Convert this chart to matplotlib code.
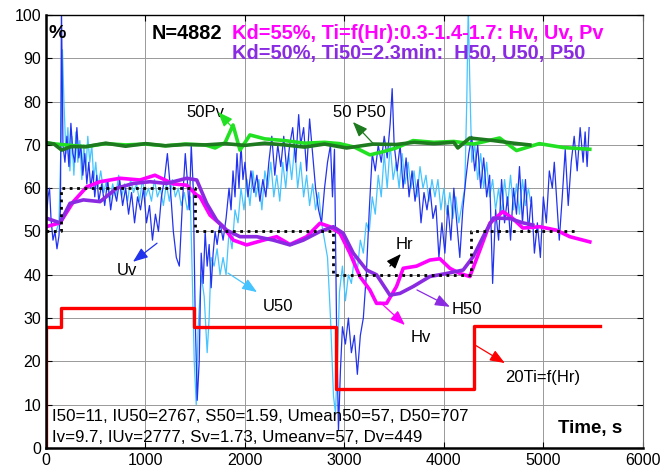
import numpy as np
import matplotlib.pyplot as plt

plt.rcParams['font.family'] = ['Liberation Sans', 'DejaVu Sans']

# --- Reference step signals
hr_t = [0, 150, 1500, 2890, 4270, 5350]
hr_v = [50, 60, 50, 40, 50, 50]

ti_t = [0, 0, 155, 1490, 2915, 4300, 5570]
ti_v = [0, 28, 32.3, 28, 13.6, 28.2, 28.2]

# --- Pv / P50
pv_t = [0, 100, 200, 400, 600, 800, 1000, 1200, 1400, 1600, 1700, 1800, 1880, 1950, 2050, 2200,
        2400, 2600, 2800, 2950, 3100, 3256, 3400, 3520, 3690, 3900, 4100, 4300, 4560, 4730, 4960,
        5200, 5467]
pv_v = [70.5, 70.2, 70.0, 69.6, 70.3, 70.0, 70.2, 69.8, 70.2, 70.0, 69.3, 70.5, 74.6, 68.8, 72.3,
        71.4, 71.0, 70.4, 70.6, 70.3, 69.5, 67.7, 68.5, 69.3, 71.0, 70.6, 70.8, 70.2, 71.6, 68.7, 70.3,
        69.4, 69.0]
p50_t = [0, 80, 158, 250, 400, 600, 800, 1000, 1200, 1400, 1600, 1800, 2000, 2200, 2400, 2600,
         2800, 3022, 3290, 3520, 3700, 3900, 4100, 4140, 4260, 4500, 4700, 4864]
p50_v = [70.5, 70.2, 68.8, 69.6, 69.6, 70.4, 69.7, 70.3, 69.8, 70.1, 70.0, 70.3, 69.9, 70.4, 70.0,
         69.5, 70.2, 69.3, 70.2, 70.1, 70.6, 70.3, 70.6, 69.3, 71.6, 71.0, 70.4, 70.0]

# --- Hv / H50
hv_t = [0, 141, 275, 409, 543, 744, 945, 1095, 1280, 1414, 1515, 1548, 1648, 1782, 1883, 2017,
        2185, 2319, 2452, 2620, 2754, 2854, 2955, 3055, 3156, 3256, 3323, 3424, 3524, 3591, 3725,
        3859, 3960, 4060, 4161, 4261, 4362, 4462, 4593, 4693, 4794, 4965, 5132, 5266, 5467]
hv_v = [51.1, 52.0, 56.9, 60.3, 61.5, 62.3, 61.9, 63.0, 61.0, 60.7, 58.4, 58.0, 53.8, 51.1, 48.0,
        46.9, 48.0, 48.8, 47.0, 48.8, 51.9, 51.1, 49.6, 45.0, 39.6, 36.5, 33.4, 33.4, 37.3, 41.5,
        42.0, 43.4, 43.7, 41.5, 40.3, 39.6, 45.7, 51.9, 54.6, 53.0, 50.8, 51.1, 50.3, 48.8, 47.6]
h50_t = [0, 141, 241, 375, 543, 711, 878, 1045, 1213, 1414, 1515, 1615, 1715, 1816, 1950, 2118,
         2285, 2452, 2586, 2754, 2888, 2988, 3089, 3223, 3323, 3457, 3558, 3692, 3859, 4027, 4194,
         4295, 4395, 4496, 4663, 4794, 4894]
h50_v = [53.1, 52.0, 56.5, 57.3, 56.9, 60.0, 61.1, 61.5, 61.1, 62.3, 61.9, 56.5, 52.6, 50.3, 48.8,
         48.8, 48.0, 46.9, 48.0, 50.0, 51.1, 49.6, 45.0, 41.1, 40.0, 35.3, 35.7, 37.3, 39.6, 40.3,
         41.1, 44.2, 48.8, 53.1, 53.0, 52.0, 51.5]

# --- Uv / U50 (noisy signals)
uv_t = [0, 20, 35, 50, 70, 90, 110, 130, 145, 155, 170, 190, 210, 230, 250, 270, 290, 310, 330,
        350, 370, 390, 410, 430, 450, 470, 490, 510, 530, 560, 590, 620, 650, 680, 710, 740, 770,
        800, 830, 860, 890, 920, 950, 980, 1010, 1040, 1070, 1100, 1130, 1160, 1190, 1220, 1250,
        1280, 1310, 1340, 1370, 1400, 1420, 1440, 1460, 1480, 1500, 1520, 1540, 1560, 1580, 1600,
        1620, 1640, 1660, 1680, 1700, 1720, 1750, 1780, 1810, 1840, 1860, 1880, 1900, 1920, 1940,
        1960, 1980, 2000, 2030, 2060, 2090, 2120, 2150, 2180, 2210, 2240, 2270, 2300, 2330, 2360,
        2390, 2420, 2450, 2480, 2510, 2540, 2560, 2590, 2620, 2650, 2680, 2710, 2740, 2770, 2800,
        2830, 2860, 2880, 2900, 2920, 2940, 2960, 2980, 3010, 3040, 3070, 3100, 3130, 3160, 3190,
        3220, 3250, 3280, 3310, 3340, 3370, 3400, 3430, 3460, 3480, 3500, 3530, 3560, 3590, 3620,
        3650, 3680, 3710, 3740, 3770, 3800, 3830, 3860, 3890, 3920, 3950, 3980, 4010, 4040, 4070,
        4100, 4130, 4160, 4190, 4220, 4250, 4280, 4310, 4340, 4370, 4400, 4430, 4460, 4490, 4520,
        4550, 4580, 4610, 4640, 4670, 4700, 4730, 4760, 4790, 4820, 4850, 4880, 4910, 4940, 4970,
        5000, 5030, 5060, 5090, 5110, 5140, 5160, 5190, 5220, 5250, 5280, 5310, 5340, 5370, 5400,
        5420, 5440, 5460]
uv_v = [52, 58, 60, 53, 48, 50, 46, 49, 55, 102, 70, 66, 72, 65, 75, 68, 66, 74, 67,
        70, 63, 68, 61, 66, 60, 64, 58, 63, 57, 61, 56, 62, 55, 60, 57, 62, 56,
        60, 54, 59, 52, 58, 55, 60, 52, 56, 48, 54, 50, 58, 62, 68, 60,
        50, 44, 42, 56, 68, 62, 55, 70, 60, 30, 11, 20, 45, 38, 50,
        42, 47, 37, 45, 50, 47, 52, 48, 53, 60, 55, 64, 58, 68, 60,
        70, 62, 66, 58, 64, 59, 63, 57, 62, 58, 66, 72, 63, 70, 65,
        72, 64, 70, 74, 66, 77, 70, 74, 64, 76, 68, 60, 55, 52, 60,
        66, 70, 58, 69, 30, 4, 18, 28, 24, 30, 22, 26, 17, 26, 30,
        40, 55, 68, 64, 70, 66, 72, 67, 75, 83, 70, 64, 70, 60, 67,
        58, 64, 57, 62, 52, 59, 55, 60, 53, 56, 44, 52, 45, 56, 48,
        60, 52, 44, 55, 62, 68, 72, 64, 70, 60, 67, 58, 63, 38, 55,
        48, 62, 52, 58, 48, 60, 54, 65, 52, 62, 50, 58, 45, 52, 44,
        58, 52, 64, 60, 66, 55, 48, 58, 69, 56, 66, 72, 64, 74, 66,
        73, 65, 74]

u50_t = [100, 130, 150, 165, 180, 200, 220, 240, 260, 280, 300, 320, 340, 360, 380, 400, 420,
         440, 460, 480, 500, 520, 550, 580, 610, 640, 670, 700, 730, 760, 790, 820, 850, 880, 910,
         940, 970, 1000, 1030, 1060, 1090, 1120, 1150, 1180, 1210, 1240, 1270, 1300, 1330, 1360,
         1390, 1420, 1450, 1470, 1490, 1510, 1530, 1560, 1590, 1620, 1640, 1660, 1690, 1720, 1750,
         1780, 1810, 1840, 1870, 1900, 1930, 1960, 1990, 2020, 2050, 2080, 2110, 2140, 2170, 2200,
         2230, 2260, 2290, 2320, 2350, 2380, 2410, 2440, 2470, 2500, 2530, 2560, 2590, 2620, 2650,
         2680, 2710, 2740, 2770, 2800, 2830, 2860, 2890, 2910, 2930, 2950, 2980, 3010, 3040, 3070,
         3100, 3130, 3160, 3190, 3220, 3250, 3280, 3310, 3340, 3370, 3400, 3430, 3460, 3490, 3520,
         3550, 3580, 3610, 3640, 3670, 3700, 3730, 3760, 3790, 3820, 3850, 3880, 3910, 3940, 3970,
         4000, 4030, 4060, 4090, 4120, 4150, 4180, 4210, 4230, 4245, 4260, 4280, 4310, 4340, 4370,
         4400, 4430, 4460, 4490, 4520, 4550, 4580, 4610, 4640, 4670, 4700, 4730, 4760, 4790, 4820,
         4850, 4870]
u50_v = [50, 52, 70, 92, 80, 68, 74, 64, 72, 63, 73, 66, 71, 62, 70, 64, 72,
         66, 70, 62, 66, 60, 64, 59, 62, 57, 61, 58, 63, 58, 61, 57, 62, 59, 61,
         57, 62, 58, 60, 57, 62, 58, 60, 56, 61, 57, 62, 58, 60, 56,
         59, 55, 58, 40, 20, 10, 28, 40, 35, 22, 30, 44, 42, 46, 40,
         44, 40, 50, 46, 55, 52, 60, 55, 62, 56, 64, 58, 62, 55, 64,
         60, 66, 58, 63, 57, 66, 60, 68, 62, 70, 60, 66, 58, 63, 56,
         61, 55, 59, 52, 48, 44, 30, 12, 8, 20, 36, 42, 34, 40, 38,
         44, 41, 48, 45, 52, 50, 58, 54, 63, 58, 68, 60, 70, 62, 66,
         60, 68, 61, 66, 60, 64, 58, 65, 60, 63, 57, 62, 58, 62, 55,
         60, 54, 59, 53, 58, 52, 56, 60, 80, 102, 85, 66, 70, 62, 68,
         60, 66, 58, 62, 55, 60, 54, 62, 56, 63, 55, 61, 54, 62, 56,
         60, 57]

# --- Plot
fig, ax = plt.subplots(1, 1, figsize=(6.71, 4.71), dpi=100)
fig.subplots_adjust(left=0.0686, right=0.958, top=0.968, bottom=0.049)

ax.plot(u50_t, u50_v, '-', color='#45c4ff', lw=0.9)
ax.plot(uv_t, uv_v, '-', color='#2233ee', lw=0.9)
ax.plot(pv_t, pv_v, '-', color='#22e022', lw=2.6)
ax.plot(p50_t, p50_v, '-', color='#1e7a1e', lw=2.6)
ax.plot(hv_t, hv_v, '-', color='#ff00ff', lw=2.6)
ax.plot(h50_t, h50_v, '-', color='#8a2be2', lw=2.6)
ax.plot(hr_t, hr_v, ':', color='k', lw=2.0, drawstyle='steps-post')
ax.plot(ti_t, ti_v, '-', color='#ff0000', lw=2.4, drawstyle='steps-post')

ax.set_xlim([0, 6000])
ax.set_ylim([0, 100])
ax.set_xticks(np.arange(0, 6001, 1000))
ax.set_yticks(np.arange(0, 101, 10))
ax.grid(True, color='#999999', lw=0.7)
ax.tick_params(direction='in', top=True, right=True, labelsize=11.5, length=4)
for s in ['left', 'bottom']:
    ax.spines[s].set_linewidth(1.8)
ax.spines['top'].set_linewidth(1.0)
ax.spines['right'].set_linewidth(0.8)
ax.spines['right'].set_color('#666666')

# --- Texts
ax.text(20, 95.8, '%', fontsize=14, fontweight='bold', va='center')
ax.text(1065, 95.8, 'N=4882', fontsize=14.3, fontweight='bold', va='center')
ax.text(1869, 95.8, 'Kd=55%, Ti=f(Hr):0.3-1.4-1.7: Hv, Uv, Pv', fontsize=14.4,
        fontweight='bold', color='#ff00ff', va='center')
ax.text(1869, 91.2, 'Kd=50%, Ti50=2.3min:  H50, U50, P50', fontsize=14.4,
        fontweight='bold', color='#8a2be2', va='center')
ax.text(60, 7.2, 'I50=11, IU50=2767, S50=1.59, Umean50=57, D50=707', fontsize=12.2, va='center')
ax.text(60, 2.4, 'Iv=9.7, IUv=2777, Sv=1.73, Umeanv=57, Dv=449', fontsize=12.2, va='center')
ax.text(5467, 4.6, 'Time, s', fontsize=13.5, fontweight='bold', ha='center', va='center')

ann = [('50Pv', (1598, 77.6), (1879, 73.9), (1729, 77.6), '#22e022'),
       ('50 P50', (3146, 77.4), (3286, 70.4), (3085, 75.3), '#1e7a1e'),
       ('Hr', (3608, 46.9), (3457, 42.0), (3568, 44.8), 'k'),
       ('Uv', (814, 40.9), (1116, 47.3), (874, 43.0), '#2233ee'),
       ('U50', (2332, 32.6), (1829, 40.4), (2121, 36.0), '#45c4ff'),
       ('H50', (4231, 31.9), (3729, 36.5), (4060, 32.6), '#8a2be2'),
       ('Hv', (3769, 25.6), (3357, 33.7), (3608, 28.4), '#ff00ff'),
       ('20Ti=f(Hr)', (4995, 16.2), (4311, 23.8), (4613, 19.6), '#ff0000')]
for lab, pos, tail, head, col in ann:
    ax.text(pos[0], pos[1], lab, fontsize=12, ha='center', va='center')
    ax.annotate('', xy=head, xytext=tail,
                arrowprops=dict(arrowstyle='-|>,head_length=0.9,head_width=0.35',
                                color=col, lw=0.9, shrinkA=0, shrinkB=0))

fig.savefig('out.png', dpi=100)
